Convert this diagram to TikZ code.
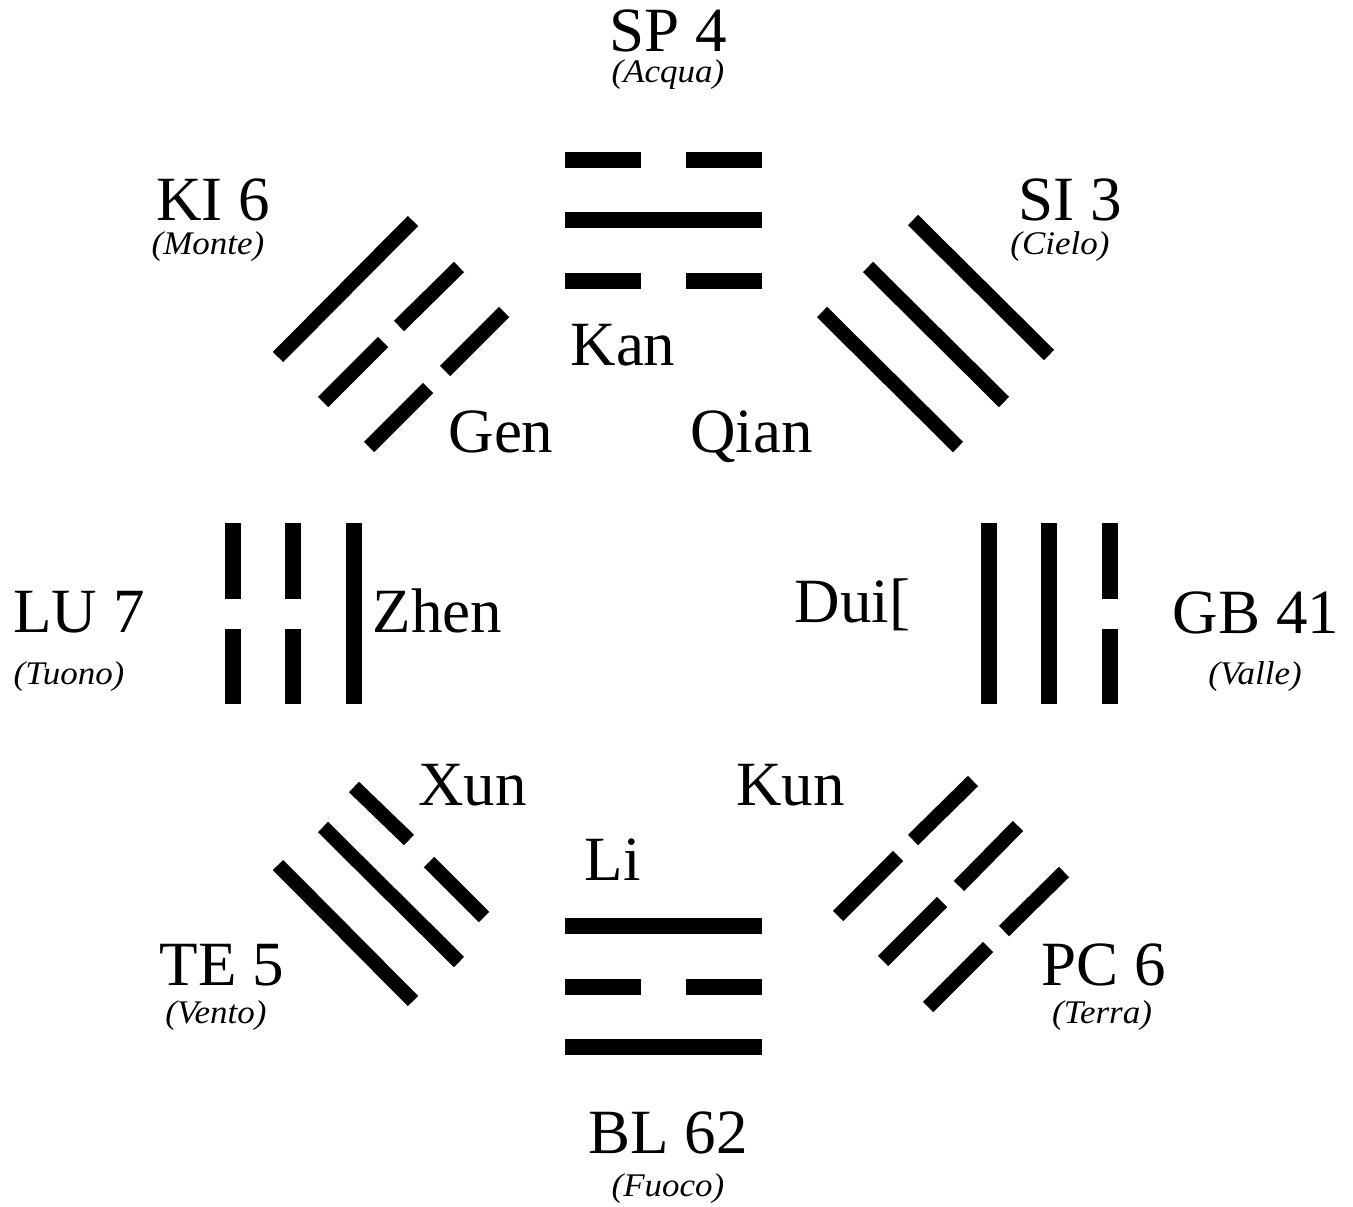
\documentclass[tikz,border=0pt]{standalone}
\usepackage{fontspec}
\setmainfont{Liberation Serif}
\begin{document}
\begin{tikzpicture}[x=1pt,y=-1pt,
  hbar/.style={line width=16pt, line cap=butt},
  dbar/.style={line width=14.5pt, line cap=butt},
  point/.style={font=\fontsize{63}{70}\selectfont, anchor=base, inner sep=0pt},
  gua/.style={font=\fontsize{63}{70}\selectfont, anchor=base, inner sep=0pt},
  elem/.style={font=\fontsize{33}{38}\selectfont\itshape, anchor=base, inner sep=0pt, xscale=1.06}]
\useasboundingbox (0,0) rectangle (1353,1207);

% Kan (top)
\draw[hbar] (565,160) -- (641,160) (686,160) -- (762,160);
\draw[hbar] (565,220) -- (762,220);
\draw[hbar] (565,281) -- (641,281) (686,281) -- (762,281);

% Li (bottom)
\draw[hbar] (565,926) -- (762,926);
\draw[hbar] (565,987) -- (641,987) (686,987) -- (762,987);
\draw[hbar] (565,1047) -- (762,1047);

% Zhen (left)
\draw[hbar] (232.5,523) -- (232.5,599) (232.5,629) -- (232.5,704);
\draw[hbar] (293,523) -- (293,599) (293,629) -- (293,704);
\draw[hbar] (354,523) -- (354,704);

% Dui (right)
\draw[hbar] (988.5,523) -- (988.5,704);
\draw[hbar] (1049,523) -- (1049,704);
\draw[hbar] (1110,523) -- (1110,599) (1110,629) -- (1110,704);

% Gen (upper left)
\draw[dbar] (278,357) -- (413,221);
\draw[dbar] (323,402) -- (383,342) (399,326) -- (459,267);
\draw[dbar] (369,447) -- (428,388) (445,371) -- (504,312);

% Qian (upper right)
\draw[dbar] (913,220) -- (1049,355);
\draw[dbar] (868,267) -- (1004,402);
\draw[dbar] (822,312) -- (958,447);

% Xun (lower left)
\draw[dbar] (278,865) -- (413,1001);
\draw[dbar] (323,827) -- (459,962);
\draw[dbar] (354,787) -- (409,840) (429,862) -- (484,917);

% Kun (lower right)
\draw[dbar] (973,781) -- (913,840) (898,856) -- (838,916);
\draw[dbar] (1018,826) -- (959,886) (942,902) -- (883,961);
\draw[dbar] (1064,872) -- (1004,931) (988,947) -- (928,1007);

% trigram names
\node[gua] (kan)  at (623,365)   {Kan};
\node[gua] (gen)  at (501,452)   {Gen};
\node[gua] (qian) at (751.5,452) {Qian};
\node[gua] (zhen) at (437.5,632) {Zhen};
\node[gua] (dui)  at (852.5,622) {Dui[};
\node[gua] (xun)  at (472.5,805) {Xun};
\node[gua] (kun)  at (790.5,805) {Kun};
\node[gua] (li)   at (612.5,880) {Li};

% points and elements
\node[point] (sp4)  at (668,52)    {SP 4};
\node[elem]  (sp4e) at (668,83)    {(Acqua)};
\node[point] (ki6)  at (213,220)   {KI 6};
\node[elem]  (ki6e) at (208,254)   {(Monte)};
\node[point] (si3)  at (1070,220)  {SI 3};
\node[elem]  (si3e) at (1060,254)  {(Cielo)};
\node[point] (lu7)  at (79,632)    {LU 7};
\node[elem]  (lu7e) at (69,684)    {(Tuono)};
\node[point] (gb41) at (1256,633)  {GB 41};
\node[elem]  (gb41e) at (1255,684) {(Valle)};
\node[point] (te5)  at (222,985)   {TE 5};
\node[elem]  (te5e) at (216,1023)  {(Vento)};
\node[point] (pc6)  at (1104,985)  {PC 6};
\node[elem]  (pc6e) at (1102,1023) {(Terra)};
\node[point] (bl62) at (668,1153)  {BL 62};
\node[elem]  (bl62e) at (668,1196) {(Fuoco)};
\end{tikzpicture}
\end{document}
